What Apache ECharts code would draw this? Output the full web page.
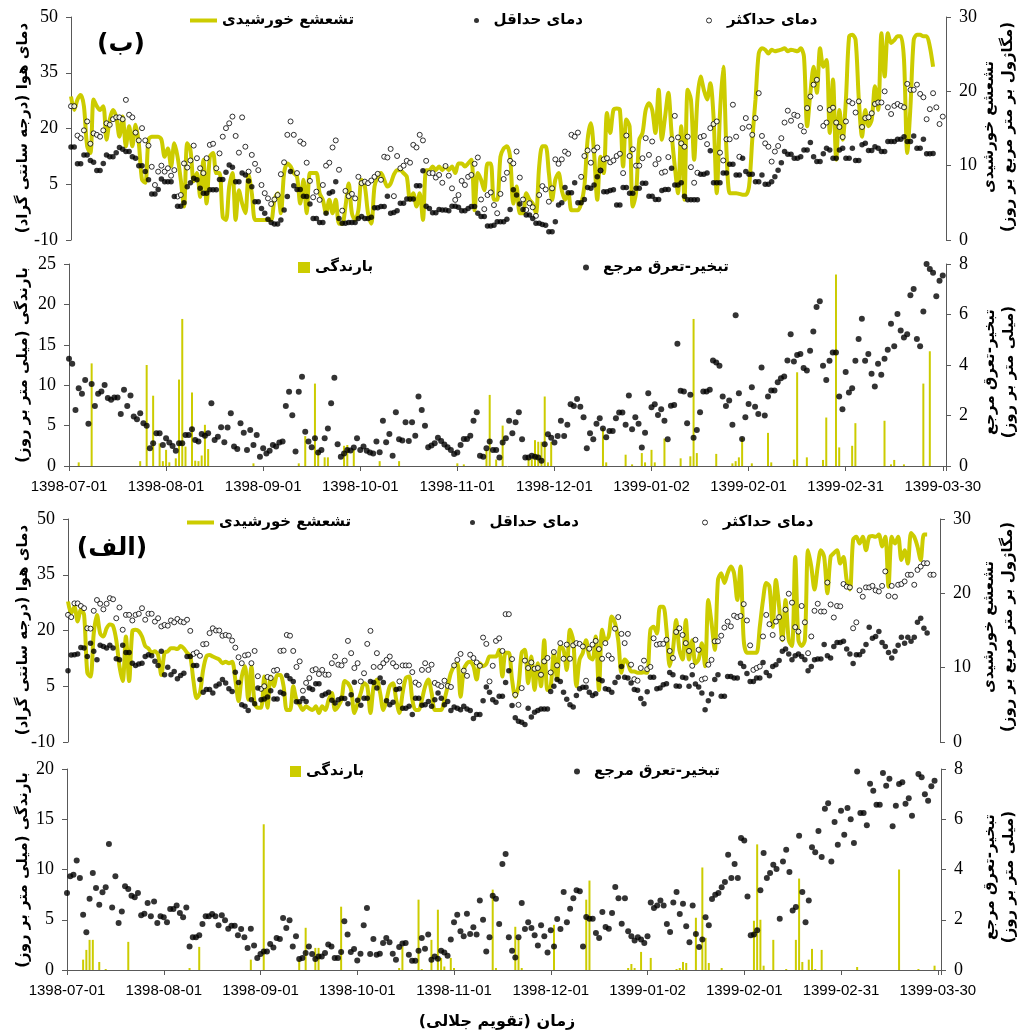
<!DOCTYPE html>
<html><head><meta charset="utf-8">
<script src="https://cdn.jsdelivr.net/npm/echarts@6/dist/echarts.min.js"></script>
<style>html,body{margin:0;padding:0;background:#fff}#c{width:1029px;height:1035px}</style>
</head><body><div id="c"></div>
<script>
// ---------- tick labels (every 30 days from 1398-07-01) ----------
const xTickLabels = ['1398-07-01','1398-08-01','1398-09-01','1398-10-01','1398-11-01','1398-12-01','1399-01-02','1399-02-01','1399-02-31','1399-03-30'];

// ---------- panel (ب) : daily values, index = day from 1398-07-01 ----------
const tmaxB = [26,26,18.1,17.4,19.5,21.9,15.9,18.7,18.3,17.8,19.5,21.4,21,22.5,23,23,22.5,27.7,23.7,23,
18.9,16.8,20.1,16.8,15.4,9.7,4.8,8.4,10,8.4,9.3,7.3,8.8,1.7,2.1,10.6,9.5,11.4,15.4,12,
9.3,8,12,15.6,15.9,9.3,13.3,17.8,20.1,21.4,23.2,18,13.5,23,15.1,8.4,12.9,10.5,8.8,4.8,
2.6,1.2,-0.3,0.9,2.1,7.7,10.9,18.3,21.9,18.3,8,16.5,15.9,10.8,5.9,1.5,3,0.8,4.8,10,
10.8,14.9,16.8,8.9,-2.1,3.2,1.8,2.4,1.2,7,5.3,5.7,5.3,6,7,7.8,6.2,12.4,12.2,14.5,
1.8,12.6,9.3,10,11.3,10.8,15.6,14.9,18.3,16.8,11.3,8,8,6.8,7.5,5.4,9.9,7.3,3.9,0.8,
2.1,5.9,4.8,7,7.5,10.5,12.2,0.9,-1.7,2.1,2.8,-0.6,
-2.8,2.4,6.4,8.1,11.3,10.6,13.8,6.8,0.9,-1.9,-0.1,-1.2,-3.5,2.1,4.5,3.6,0.3,3.9,11.7,10.5,
11.7,13.8,13.2,18.3,17.8,18.9,7,12.6,14.1,10.8,14.1,14.9,8.7,11.7,12,10.9,11.4,12.6,13.2,8,
18.1,12.6,14.4,10,10,12,17.4,12.9,16.5,10.4,11.8,8.1,8.4,12.3,17.1,23.4,17.6,16,15.1,17.8,
9.6,5.4,8.1,17.7,18,15.8,20.1,21.2,21.9,13.5,11.4,17.1,17.1,26.4,17.8,12.4,20.1,22.8,20.5,18.3,
22.8,29.5,18,16,15.1,11.1,13.8,15.3,17.4,21.6,24.8,22.1,23.7,23.4,20.7,19.2,25.5,28.6,31.8,33.1,
25.5,20.7,21.6,25,25.6,21.6,20.4,17.7,21.9,27.3,26.8,24.3,27.3,20.4,22.8,23,24.1,26.6,27,27,
30,25.7,23.9,26.1,26.6,26.1,25.7,32,30.4,30.4,31.8,29.3,28.4,22.5,25.2,29.5,25.7,21.2,23.2];

const tminB = [15,15,10.5,10.5,12.9,12.9,11.4,10.9,8.7,8.7,10.6,12.9,12.4,12.4,13.5,14.9,14.4,13.8,13.8,12.4,
12,10,10,8.4,6.2,2.4,2.4,3.6,6.4,5.7,5.7,5.7,1.7,-0.9,-0.9,0,4.3,5.4,6.6,6.2,
3.9,2.6,2.6,3.5,3.5,3.5,6.3,6.3,8.2,10.2,9.6,5.7,5.7,8,7.5,5.9,4.3,0.3,0.3,-1.5,
-2.8,-4.4,-5.3,-5.7,-5.7,-4.6,-1.9,1.7,8.4,4.6,3.6,3.6,1.8,1.7,-0.3,-4.2,-4.2,-5.3,-5.3,-2.8,
2.6,3,5.7,-4.2,-5.5,-5.5,-5.3,-5.3,-5.3,-4.2,-3.7,-4.2,-4.2,-3.9,-1.3,-1.3,-1,-1,1.8,-2.8,
-2.6,-2.1,-0.1,-0.1,1,1,1,4.6,4.6,8.6,-0.9,-1.5,-2.7,-2.7,-1.8,-1.9,-1.9,-2.1,-0.9,-0.9,
-1.2,-2.1,-2.1,-1.5,-1,-1,-2.8,-3.7,-3.7,-6.2,-6.2,-6,
-5.1,-5.1,-5.1,-4.4,-1.8,3.5,2.1,-0.3,-1.8,-3.3,-3.3,-4.2,-5.5,-5.5,-5.8,-6,-7.8,-7.8,-5.1,-0.6,
0,4.1,2.7,2.7,5.4,0,0,0.9,4.1,3.9,4.8,7,8.7,3,3,3.3,3.5,-0.6,-0.6,4.1,
4.1,2.6,2.6,3.9,3.9,5.3,5.3,1.8,1.8,0.9,0.9,3.3,3.6,3.6,9.3,4.8,4.8,5.4,1.8,0.8,
0.8,0.8,0.8,7.7,7.7,8,14,5.4,5.4,5.4,8,8,10.4,10.4,7.5,7.5,12,8.4,7.7,7.7,
5.7,5.7,7.5,5,5,5.7,7,8.8,10.8,13.8,13.1,13.1,12,12,12.4,14.2,14.2,16.2,12.4,11.1,
11.1,13.2,14.7,14.2,12,12,14.2,14.7,12,12,14.7,11.4,11.4,15.6,16,14.1,14.1,15.1,14.7,13.8,
13.8,16.5,16.5,16.5,17.1,17.1,17.8,16.5,16.5,18,14.7,14.7,17.1,13.2,13.2,13.3];

const radB = [19.3,17.5,18.9,19.5,18,12.6,11.7,18.9,18,17.5,18,13.5,16.2,17.5,16.6,13.9,16.6,12.6,15.3,12.6,
15.5,13,8.1,7.7,13.5,13.9,13.9,13.9,13.5,11.2,12.3,9.9,13,11.2,8.1,4.5,13,12.1,7.9,9,
5.8,10.8,4.9,11.2,11.7,9,9,3.1,2.7,7.2,9,2.7,6.7,4.9,3.6,8.8,6.3,2.7,2.7,2.7,
2.7,2.7,2.7,5.4,6.3,3.6,9,10.3,9.9,9,8.5,4.9,8.1,3.6,9,9,9,6.3,5.4,3.6,
5.4,3.6,5.4,2.2,2.2,4.5,7.6,3.6,2.7,4,8.1,7.2,3.6,2.2,7.2,8.5,9,8.1,7.2,7.6,
8.8,9.4,9.4,9,8.5,5.4,6.3,4.5,6.3,2.7,9.4,9.4,9.9,9.4,9.9,9.4,9.9,9.4,9.9,9,
10.3,10.3,9.9,10.3,10.8,4,9,8.1,6.7,10.3,10.3,5.4,
5.4,11.2,12.3,12.6,11.2,4.9,7.2,3.6,3.6,6.3,5.4,4.9,3.6,9.9,12.6,12.6,9,5.4,8.1,9,
6.7,5.4,6.3,4,4,4,4.9,7.2,13.5,15.7,11.7,5.4,11.2,9,17.1,14.4,17.5,17.7,17.5,9.9,
16.2,15.3,4.5,6.3,13.5,14.4,17.5,18.4,17.5,14.4,20.2,13.5,16.6,19.8,14.4,9.9,6.3,15.3,5.4,20.2,
18.9,10.8,18.9,22,20.2,18.9,21.1,16.6,6.3,17.1,23.3,12.1,6.3,6.3,6.3,6.2,6.1,6.1,7.2,13.5,
18.9,25.1,25.8,25.6,25.1,25.6,25.4,25.5,25.6,25.8,25.4,25.6,25.5,25.4,25.8,24.7,15.3,19.8,23.3,19.8,
25.8,23.3,24.2,14.4,21.6,10.8,17.5,13.5,18.9,27.4,27.6,26.9,18.9,13.9,17.5,15.3,16.2,20.7,17.5,27.8,
22,27.8,26.5,26.9,27.4,27.4,24.2,11.7,18,26.9,27.6,27.6,27.4,27.4,26,23.3];

const etB = [4.25,4.05,2.22,3.08,2.86,3.41,1.67,3.25,2.38,2.86,2.95,3.21,2.69,2.62,2.71,2.71,2.06,3.02,2.38,2.79,
1.96,1.85,2.09,1.69,1.59,0.7,0.9,1.3,1.3,0.83,1.1,0.93,0.79,0.6,0.9,0.9,1.23,1.23,1.46,1.03,
0.97,1.27,1.2,1.3,2.49,1.03,1.16,1.53,0.94,1.52,2.09,0.77,0.67,1.69,1.32,0.63,1.43,0.83,1.23,0.37,
0.7,0.5,0.6,0.83,0.77,0.93,0.97,2.38,2.94,2.01,0.57,2.94,3.53,1.36,0.97,0.74,1.1,0.53,0.63,1.1,
1.49,2.49,3.5,0.86,0.37,0.5,0.63,0.61,0.73,1.1,0.63,0.77,0.6,0.53,0.5,0.97,0.54,1.79,0.94,1.27,
0.41,2.13,1.06,1.01,1.73,0.99,1.73,1.2,2.75,2.22,1.59,0.74,0.81,0.9,1.12,0.99,0.85,0.74,0.63,0.48,0.53,
0.83,1.07,1.07,1.2,1.79,2.13,0.41,0.37,0.7,0.97,0.63,
0.63,0.34,0.93,1.1,1.79,1.3,1.73,2.13,1.06,0.34,0.34,0.41,0.37,0.34,0.21,0.86,1.26,1.12,0.93,1.19,
1.79,1.19,1.63,2.45,2.38,2.65,2.35,1.93,0.7,1.3,1.06,1.67,1.89,1.49,1.14,1.39,1.39,1.89,2.12,2.12,
1.63,2.79,1.46,1.93,1.67,0.73,1.32,2.88,2.33,2.45,2.02,2.25,1.79,1.06,2.39,2.42,4.84,2.98,2.95,1.69,
2.82,1.12,1.43,2.13,2.95,2.95,3.02,4.18,4.1,3.97,2.75,2.38,2.59,1.63,5.97,2.88,1.07,1.93,2.46,3.12,
2.35,2.06,3.9,2,2.75,2.99,2.99,3.32,3.48,3.54,4.18,5.22,4.14,4.4,4.44,3.88,3.78,4.56,5.33,6.3,
6.52,3.97,3.41,4.17,4.5,4.5,2.75,2.25,3.72,2.91,3.08,4.17,5.03,5.83,4.17,4.44,3.65,3.15,4.05,3.61,
4.25,4.6,5.63,4.74,6.02,5.37,5.09,5.22,6.76,7.01,5.03,4.74,6.12,8,7.8,7.65,6.72,7.34,7.54];

// rainfall (ب): day index and amount (mm) for rainy days
const rainDayB = [3,7,22,24,26,28,29,30,31,33,34,35,36,38,39,40,41,42,43,57,71,73,76,77,79,80,85,86,88,96,102,120,122,129,130,132,
134,142,143,144,145,146,147,148,149,165,166,172,174,177,178,180,181,184,189,192,193,194,200,205,206,207,208,211,216,217,224,225,228,233,234,237,238,242,243,252,254,255,258,264,266];
const rainB = [0.45,12.7,0.6,12.5,8.7,2.8,0.6,2.0,0.45,0.95,10.7,18.2,2.4,9.1,0.66,0.6,1.3,5.1,2.1,0.33,0.33,3.7,10.2,2.0,1.07,1.07,2.5,2.6,2.1,0.6,0.6,0.33,0.2,2.0,8.8,0.8,
5.0,0.95,0.95,3.2,3.0,3.0,8.6,0.45,3.0,4.7,0.45,1.4,0.2,1.6,0.45,2.0,0.45,3.4,0.95,1.2,18.2,1.6,1.5,0.33,0.6,1.07,3.5,0.33,4.1,0.45,0.8,11.6,1.07,0.75,6.0,23.7,2.3,2.5,5.3,5.6,0.2,0.75,0.2,10.2,14.2];

// ---------- panel (الف) ----------
const tmaxA = [24.2,23.6,27.3,27.3,26.6,26,20.6,20.5,25.3,28.2,27.2,25.7,27.2,28.7,28.4,23.3,26.2,20.2,24.2,24.2,
22.7,24.2,24.5,26,22.9,24.5,24.5,22.4,23.3,21.1,21.5,21.3,22.7,22.2,23.1,22.4,22.2,22.9,19.9,13.7,
14.1,13.2,16.3,16.4,19.3,20.6,20,20,18.6,18.8,18.6,17.3,15.4,12.8,11.2,13.3,13.5,11.2,14.5,7.7,
4.3,5,7.5,7.2,9.2,9.4,14.5,14.6,18.8,18.6,14.5,10.2,11.7,3.8,5.9,7.2,9.3,9.6,8.3,9.4,
8.1,8.1,11.2,13,10.8,10.6,11.9,17.2,13.9,9.9,11.2,6.3,8.5,16.4,19.9,10.2,13.9,10.2,11.2,12.1,
13,11.2,10.3,6.3,10.6,10.6,10.6,8.8,6,5.4,9.4,11.2,9.4,10.8,5.9,5.4,5,6.5,5.1,4.8,
10.6,12.1,13.7,9.2,7.8,13.5,12.6,11.4,10.5,18.1,16.4,6.3,10.5,
17.2,17.9,14.5,24.4,24.4,12.3,2.7,0,4.5,11.9,9.9,11.4,9.7,9.9,8.1,11.7,12.6,8.7,14.2,10.6,16.6,
12.4,16.2,12.4,16,16.6,16.4,15.7,6.5,15.1,16.2,17.2,15,12.4,16.6,13.3,12.4,20.5,23.6,19.1,16.6,
19.1,10.8,6.9,6.5,9.9,11.9,9.6,10.2,17.9,16.2,16.4,16.4,17.5,14.5,12.6,19.6,20.6,18.8,16.6,14.5,
10.5,17.5,14.8,6.8,7.1,10.8,12.1,17.1,17.1,18.6,20.8,22.4,21.1,24,23.6,23.9,27.1,22.7,16,9.4,
9.9,10.3,18.4,24.2,21.7,18.8,22.4,23.6,17.9,25.6,29.9,27.5,20.9,19.7,26.6,22.2,13.9,18.4,25.3,27.2,
25.1,25.1,32.9,27,23.5,26.6,26.5,32.5,31.8,31.6,20.6,22.2,30.8,29.1,31.6,31.6,32,30.8,30.5,32,
35.9,29.3,32,29.1,32.3,32.5,33.2,35,35,32.3,36.3,37.2,38.1,38.1,35,35];

const tminA = [9.2,13.4,13.5,13.7,15.4,15.3,13,16.6,14.4,12.1,16,15.7,15.3,16,15.3,12.4,12.1,16,14.1,14.1,11.2,
10.6,11,11.2,13,13.5,13.2,11.7,10.6,14.4,8.1,10.1,8.1,9,7,7.9,8.5,13,13,10.6,10.6,
6.8,3.4,4.1,4.1,3.2,5.1,5.6,6.8,5.9,4.3,3.6,8.8,6,0,-0.4,-1.5,1.4,0.3,4.5,1.4,
1.6,2.1,3.8,1.6,1.6,3.4,3,7.9,7,6.3,0.8,0.8,1.7,0.9,4.5,4.1,5.7,5.7,2.5,2.9,3.4,
1.2,0.5,1.4,1.8,1.7,0.3,2.7,6.1,1.2,-0.1,1.8,1.8,6.3,6,4.5,7.2,6,1.1,0,0.7,
4.1,4.3,-0.9,-0.9,-0.4,-2.6,1.8,1.8,-0.1,0,0.9,-0.4,1.4,3.2,1.8,0,0.9,-1.5,-0.6,-0.9,
-1.3,-0.4,-1.1,-1.5,-3.7,-2.6,-2.6,1.1,4.8,3.4,1.4,
0.7,2.3,2.3,6,9.2,-0.2,-3.5,-4.4,-4.7,-5.3,-0.9,-3.3,-2,-1.5,-1.1,-1.1,-1.1,3.6,5,6.8,6.3,
3.4,1.5,0,-0.6,2.5,4.3,4.7,4.7,3.4,2.5,3,6.9,6.5,4.3,4.1,3.4,6,7.4,10.3,7.4,7.2,
5.9,4.1,3.9,1.7,0.3,3.5,7.4,7.4,4.3,4.5,5.4,5.7,8.7,8.1,5.1,5,7.4,7.2,5,8.1,5.6,
4.8,3.2,-1.3,1.1,2.9,6.8,8.1,2.3,2.3,7.6,7.6,7.2,7.2,11.2,10.3,8.4,6.3,6.3,7.2,7.2,
11.4,8.7,7.8,10.3,10.8,11.9,14.4,15,13.7,12.1,13.2,13.7,13,12.1,9.2,10.3,12.1,12.3,12.3,16.2,
13.2,12.6,15.7,16.8,16.8,17.1,15,13.7,11.1,13.5,13.5,14.4,16.2,20.9,17.9,18.4,19.7,16.8,15.7,14.1,12.6,
14.4,16,18.2,16.6,18.2,17.1,18.2,22.2,23.3,20.6,19.3];

const radA = [18.9,17.3,18.2,16.2,17.8,17.1,9.3,8.8,14.6,17.1,14.6,14.2,15.3,15.8,15.6,13.7,10.2,8.2,14.2,8.2,
14.9,15.1,14.9,14.2,12.9,12.6,12,12.2,11.7,9,12,12.2,12.6,12.6,12.5,12.9,12.6,12,11.5,8.2,5.9,
6.6,9.7,11.5,11.7,11.5,11.3,11.1,10.6,10.8,10.6,10.8,8.4,5.5,8.8,10.2,5.7,10.2,5.2,4.6,4.6,
8.8,4.6,8.8,7.5,9,9,7.5,4.3,4.3,7.5,5.7,5,4.3,4.8,4.5,4.3,4.8,3.9,4.8,4.3,5.7,
6.6,4.3,4.8,5.7,8.2,7.9,7,3.9,5.2,6.6,7.9,7.5,3.9,7.5,8.4,6.6,4.3,5.7,7.5,7.9,
5.7,3.9,6.6,8.6,8.8,5.7,4.3,4.3,5.7,7.5,8.4,6.6,4.3,4.3,4.3,5.7,7.5,9.3,10.2,10.6,
6.1,9.7,10.6,10.8,10.2,8.4,10.6,10.2,10.5,11.5,11.5,
11.5,12.4,8.8,12,12,8.4,6.1,7.5,12,12.4,7.9,11.5,7,10.6,7.5,13.7,7,7.5,12,8.4,
12.9,12.4,9.7,15.1,13.7,7.5,11.1,12,13.7,11.5,11.1,14.2,7,15.1,13.7,14.2,16.9,16,13.7,9.3,
11.1,10.6,9.5,9.5,9.3,9.3,9.4,9.3,15.1,15.5,14.6,18.2,18.2,15.1,10.2,12.4,16.4,12.4,11.1,16.4,11.1,
13.7,10.6,11.1,13.3,10.2,19.1,16,12.4,21.8,22.7,21.4,22.7,23.6,22.7,19.1,23.6,13.7,12,12,12,12,
15.5,19.1,21.4,20.9,15.5,21.8,18.2,13.7,19.1,13.7,12.9,24.9,13.7,12.9,13.7,25.8,23.6,20.5,23.6,25.8,
24.9,20,24.9,25.4,25.8,24,24.9,21.8,20.5,27.2,27.6,26.7,27.6,25.8,27.6,27.7,27.6,27.9,26.3,27.6,20.9,
27.6,26.7,27.6,24.5,25.8,24,28.1,27.6,26.3,24.5,27.9,27.9];

const etA = [3.06,3.73,3.79,4.36,3.66,2.2,1.5,2.84,3.86,3.26,2.6,3.09,3.29,5.01,2.49,3.73,1.87,2.33,3.33,3.22,
2.96,2.9,3.06,2.18,2.24,2.67,2.14,2.73,1.87,2.14,2.1,1.9,2.43,2.43,2.57,2.27,2.1,2.49,0.94,1.3,
1.3,1.38,1.83,2.14,2.14,2.23,2.14,1.78,2.18,1.98,1.64,1.76,1.76,1.38,1.63,1.3,0.88,1.64,0.98,0.48,
0.64,0.74,0.74,1.03,0.9,1.27,1.23,2.07,1.67,1.98,0.94,1.34,0.44,0.48,0.68,0.94,0.64,0.44,0.54,0.54,
0.68,1.01,0.94,0.48,0.48,0.72,1.94,1.41,0.72,0.84,0.38,0.65,1.78,2.47,0.64,1.23,0.61,0.65,1.07,1.27,
1.1,0.65,0.41,0.92,1.05,1.07,0.61,0.37,0.37,0.77,1.27,0.85,1.41,0.41,0.54,0.45,0.77,0.7,0.57,1.21,
1.9,2.2,1.54,1.34,2.24,1.43,1.7,1.41,2.77,2.0,0.74,1.3,2.96,
2.84,1.83,4.22,4.62,1.3,0.77,0.5,1.3,2.67,1.63,1.9,1.67,1.38,0.98,1.78,1.34,0.7,1.58,0.94,2.03,
1.63,3.1,1.9,2.44,2.86,3.17,3.13,0.94,2.11,2.04,2.04,1.47,1.27,2.31,1.71,1.64,2.27,3.3,2.86,1.84,
2.86,1.54,1.34,1.17,1.3,1.21,1.07,1.34,2.69,2.47,2.57,2.77,2.57,1.83,1.51,2.69,3.1,2.23,2.64,1.74,
1.1,2.57,1.43,0.92,1.21,2.1,1.78,2.83,3,3.06,3.29,3.5,4.59,3.66,4.22,3.66,5.25,5.15,2.93,1.38,
1.41,1.58,3.17,4.66,3.66,3.86,4.19,4.02,2.04,4.32,4.79,3.9,2.37,2.51,5.34,3.1,1.9,2.77,4.89,4.69,
5.53,4.5,6.42,6.64,4.32,5.89,4.99,6.34,5.38,6.45,6.0,5.05,7.9,6.25,6.25,5.76,7.41,7.13,6.58,6.58,7.84,
7.33,7.61,5.72,6.54,7.4,7.47,6.62,6.84,6.14,8.01,7.8,7.67,7.0,6.74,7.31,7.53];

const rainDayA = [5,6,7,8,10,12,19,38,41,57,61,72,74,77,78,85,103,104,109,110,113,115,116,117,119,120,132,133,
139,140,141,151,161,162,174,175,176,178,181,189,190,191,192,195,197,198,199,203,213,214,215,216,219,223,226,227,228,230,231,232,234,245,258,264,269];
const rainA = [1.03,2.0,3.0,3.0,0.8,0.1,2.8,0.2,2.3,1.03,14.5,1.03,4.2,2.2,2.2,6.3,0.2,2.35,7.0,0.1,3.0,6.0,1.2,0.35,1.2,0.2,8.0,0.2,
4.3,3.1,0.2,4.5,7.0,8.9,0.2,0.6,0.2,1.8,1.2,0.1,0.2,0.8,0.7,5.2,10.2,3.2,0.7,0.2,4.9,12.5,5.0,0.43,3.0,0.1,3.0,9.1,0.8,1.03,2.1,0.1,2.0,0.3,10.0,0.1,0.43];

// ---------- texts ----------
const rtl = s => '\u200F' + s + '\u200F';
const N_RAD = rtl('تشعشع خورشیدی'), N_TMIN = rtl('دمای حداقل'), N_TMAX = rtl('دمای حداکثر');
const N_RAIN = rtl('بارندگی'), N_ET = rtl('تبخیر-تعرق مرجع');

const YEL = '#CCCC00', AX = '#595959';
const FA = '"DejaVu Sans", sans-serif';
const daily = arr => arr.map((v, i) => [i, v]);
const pairs = (d, v) => d.map((x, k) => [x, v[k]]);

const grids = [
  {left: 71, right: 83, top: 17, height: 223},
  {left: 69, right: 83, top: 264, height: 202},
  {left: 68, right: 89, top: 519, height: 223},
  {left: 67, right: 88, top: 769, height: 201}
];
function xAx(i, show) {
  return {gridIndex: i, type: 'value', min: 0, max: 271, interval: 30,
    show: show,
    axisLine: {show: show, onZero: false, lineStyle: {color: AX, width: 1}},
    axisTick: {show: show, length: 5, lineStyle: {color: AX}},
    axisLabel: {show: show, margin: 13, fontFamily: '"Liberation Sans", sans-serif', fontSize: 15, color: '#000',
      formatter: v => (v % 30 === 0 && v / 30 < xTickLabels.length) ? xTickLabels[v / 30] : ''},
    splitLine: {show: false}};
}
function yAx(i, pos, min, max, itv) {
  return {gridIndex: i, type: 'value', position: pos, min: min, max: max, interval: itv,
    axisLine: {show: true, lineStyle: {color: AX, width: 1}},
    axisTick: {show: true, length: 5, lineStyle: {color: AX}},
    axisLabel: {margin: 13, fontFamily: '"Liberation Serif", serif', fontSize: 18, color: '#000'},
    splitLine: {show: false}};
}
function lg(name, left, top, icon, w, h, st) {
  return {data: [{name: name, icon: icon, itemStyle: st}], left: left, top: top, padding: 0,
    itemWidth: w, itemHeight: h, selectedMode: false,
    textStyle: {fontFamily: FA, fontWeight: 'bold', fontSize: 15, color: '#000'}};
}
function gtext(x, y, text, size, rot) {
  return {type: 'text', x: x, y: y, rotation: rot || 0,
    style: {text: text, font: 'bold ' + size + 'px ' + FA, fill: '#000',
      textAlign: 'center', textVerticalAlign: 'middle', align: 'center', verticalAlign: 'middle', lineHeight: 19}};
}
const R90 = Math.PI / 2;
const hollow = {color: '#fff', borderColor: '#000', borderWidth: 1};
const dot = {color: '#000'};

const option = {
  animation: false,
  backgroundColor: '#fff',
  grid: grids,
  xAxis: [xAx(0, false), xAx(1, true), xAx(2, false), xAx(3, true)],
  yAxis: [
    yAx(0, 'left', -10, 50, 15), yAx(0, 'right', 0, 30, 10),
    yAx(1, 'left', 0, 25, 5), yAx(1, 'right', 0, 8, 2),
    yAx(2, 'left', -10, 50, 15), yAx(2, 'right', 0, 30, 10),
    yAx(3, 'left', 0, 20, 5), yAx(3, 'right', 0, 8, 2)
  ],
  legend: [
    lg(N_RAD, 190, 13, 'rect', 27, 4, {color: YEL}),
    lg(N_TMIN, 474, 13, 'circle', 24, 5, dot),
    lg(N_TMAX, 706, 13, 'circle', 26, 5, hollow),
    lg(N_RAIN, 298, 260, 'rect', 12, 11, {color: YEL}),
    lg(N_ET, 583, 260, 'circle', 24, 6, dot),
    lg(N_RAD, 187, 515, 'rect', 27, 4, {color: YEL}),
    lg(N_TMIN, 470, 515, 'circle', 24, 5, dot),
    lg(N_TMAX, 702, 515, 'circle', 26, 5, hollow),
    lg(N_RAIN, 290, 764, 'rect', 11, 11, {color: YEL}),
    lg(N_ET, 574, 764, 'circle', 24, 6, dot)
  ],
  graphic: [
    gtext(121, 44, rtl('(ب)'), 25),
    gtext(112, 548, rtl('(الف)'), 25),
    gtext(23, 128, rtl('دمای هوا (درجه سانتی گراد)'), 15, R90),
    gtext(999, 127, rtl('تشعشع خورشیدی') + '\n' + rtl('(مگاژول بر متر مربع بر روز)'), 15, R90),
    gtext(23, 365, rtl('بارندگی (میلی متر بر روز)'), 15, R90),
    gtext(1000, 372, rtl('تبخیر-تعرق مرجع') + '\n' + rtl('(میلی متر بر روز)'), 15, R90),
    gtext(23, 630, rtl('دمای هوا (درجه سانتی گراد)'), 15, R90),
    gtext(999, 627, rtl('تشعشع خورشیدی') + '\n' + rtl('(مگاژول بر متر مربع بر روز)'), 15, R90),
    gtext(23, 870, rtl('بارندگی (میلی متر بر روز)'), 15, R90),
    gtext(1000, 877, rtl('تبخیر-تعرق مرجع') + '\n' + rtl('(میلی متر بر روز)'), 15, R90),
    gtext(497, 1022, rtl('زمان (تقویم جلالی)'), 16)
  ],
  series: [
    {name: N_RAD, type: 'line', xAxisIndex: 0, yAxisIndex: 1, data: daily(radB), smooth: 0.3, symbol: 'none',
      lineStyle: {color: YEL, width: 4}, itemStyle: {color: YEL}, z: 2},
    {name: N_TMAX, type: 'scatter', xAxisIndex: 0, yAxisIndex: 0, data: daily(tmaxB), symbolSize: 5, itemStyle: hollow, z: 3},
    {name: N_TMIN, type: 'scatter', xAxisIndex: 0, yAxisIndex: 0, data: daily(tminB), symbolSize: 5.5, itemStyle: dot, z: 4},
    {name: N_RAIN, type: 'bar', xAxisIndex: 1, yAxisIndex: 2, data: pairs(rainDayB, rainB), barWidth: 2, itemStyle: {color: YEL}, z: 2},
    {name: N_ET, type: 'scatter', xAxisIndex: 1, yAxisIndex: 3, data: daily(etB), symbolSize: 6, itemStyle: dot, z: 3},
    {name: N_RAD, type: 'line', xAxisIndex: 2, yAxisIndex: 5, data: daily(radA), smooth: 0.3, symbol: 'none',
      lineStyle: {color: YEL, width: 4}, itemStyle: {color: YEL}, z: 2},
    {name: N_TMAX, type: 'scatter', xAxisIndex: 2, yAxisIndex: 4, data: daily(tmaxA), symbolSize: 5, itemStyle: hollow, z: 3},
    {name: N_TMIN, type: 'scatter', xAxisIndex: 2, yAxisIndex: 4, data: daily(tminA), symbolSize: 5.5, itemStyle: dot, z: 4},
    {name: N_RAIN, type: 'bar', xAxisIndex: 3, yAxisIndex: 6, data: pairs(rainDayA, rainA), barWidth: 2, itemStyle: {color: YEL}, z: 2},
    {name: N_ET, type: 'scatter', xAxisIndex: 3, yAxisIndex: 7, data: daily(etA), symbolSize: 6, itemStyle: dot, z: 3}
  ]
};
const chart = echarts.init(document.getElementById('c'), null, {renderer: 'canvas'});
chart.setOption(option);
</script>
</body></html>
